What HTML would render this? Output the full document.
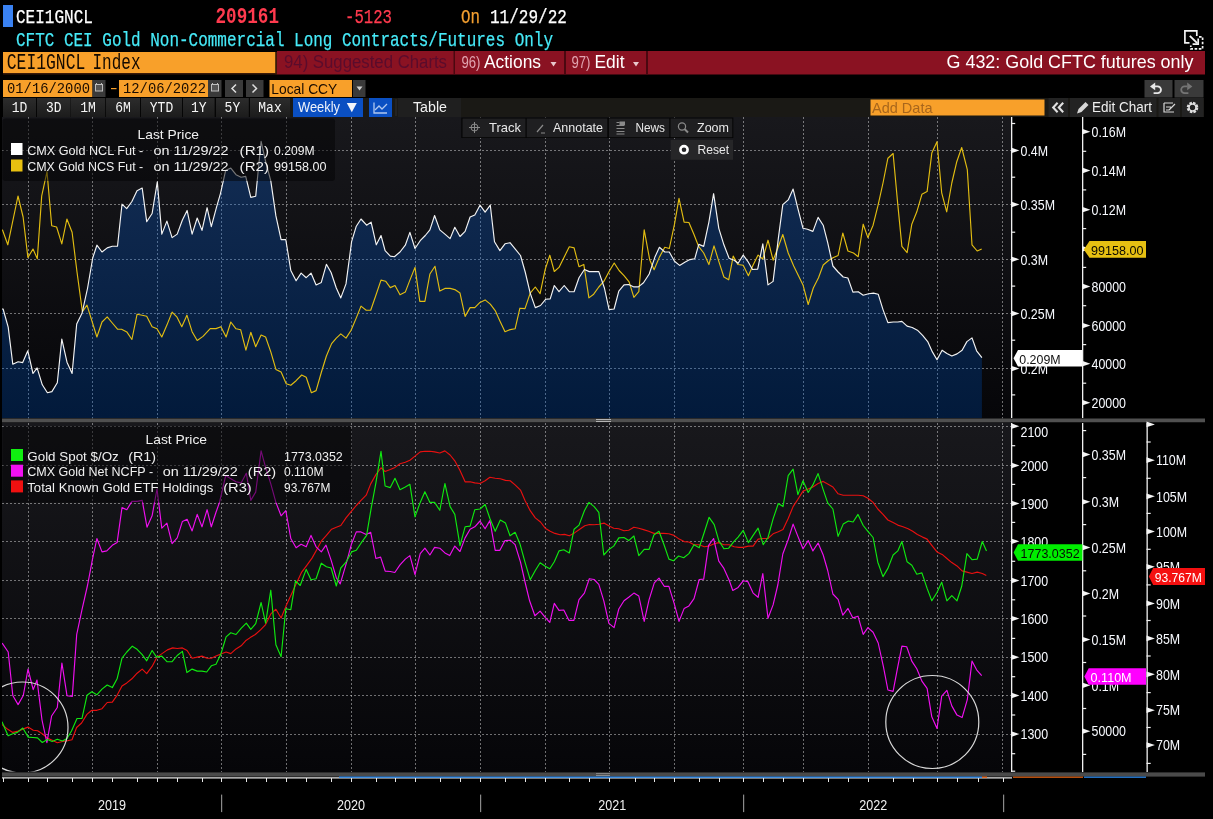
<!DOCTYPE html>
<html><head><meta charset="utf-8"><title>CEI1GNCL Index - G 432</title>
<style>html,body{margin:0;padding:0;background:#000;overflow:hidden;width:1213px;height:819px}svg{display:block}</style>
</head><body>
<svg width="1213" height="819" viewBox="0 0 1213 819">
<defs>
<linearGradient id="bgTop" x1="0" y1="0" x2="0" y2="1"><stop offset="0" stop-color="#18181c"/><stop offset="1" stop-color="#060609"/></linearGradient>
<linearGradient id="bgBot" x1="0" y1="0" x2="0" y2="1"><stop offset="0" stop-color="#18181c"/><stop offset="1" stop-color="#060609"/></linearGradient>
<linearGradient id="fillG" gradientUnits="userSpaceOnUse" x1="0" y1="140" x2="0" y2="418"><stop offset="0" stop-color="#132d54"/><stop offset="1" stop-color="#021a3b"/></linearGradient>
<linearGradient id="btnG" x1="0" y1="0" x2="0" y2="1"><stop offset="0" stop-color="#2c2c2c"/><stop offset="1" stop-color="#1c1c1c"/></linearGradient>
<clipPath id="clipTop"><rect x="2" y="117" width="1009" height="301"/></clipPath>
<clipPath id="clipBot"><rect x="2" y="423" width="1009" height="348.5"/></clipPath>
</defs>
<rect width="1213" height="819" fill="#000"/>
<rect x="3" y="5" width="10" height="22" fill="#3a82f2"/>
<text x="16" y="23" font-size="21" fill="#ffffff" font-family="'Liberation Mono', monospace" textLength="77" lengthAdjust="spacingAndGlyphs" stroke="#ffffff" stroke-width="0.25">CEI1GNCL</text>
<text x="215.5" y="22.8" font-size="22" fill="#ff3a4e" font-family="'Liberation Mono', monospace" textLength="63.5" lengthAdjust="spacingAndGlyphs" font-weight="bold">209161</text>
<text x="345" y="23" font-size="21" fill="#ff3a4e" font-family="'Liberation Mono', monospace" textLength="47" lengthAdjust="spacingAndGlyphs" stroke="#ff3a4e" stroke-width="0.25">-5123</text>
<text x="461" y="23" font-size="21" fill="#f5a030" font-family="'Liberation Mono', monospace" textLength="19" lengthAdjust="spacingAndGlyphs" stroke="#f5a030" stroke-width="0.25">On</text>
<text x="490" y="23" font-size="21" fill="#ffffff" font-family="'Liberation Mono', monospace" textLength="77" lengthAdjust="spacingAndGlyphs" stroke="#ffffff" stroke-width="0.25">11/29/22</text>
<text x="16" y="45.5" font-size="21" fill="#46eaf8" font-family="'Liberation Mono', monospace" textLength="537" lengthAdjust="spacingAndGlyphs" stroke="#46eaf8" stroke-width="0.25">CFTC CEI Gold Non-Commercial Long Contracts/Futures Only</text>
<g fill="none" stroke="#f2f2f2" stroke-width="1.7"><path d="M1196.8,36 V30.9 H1184.9 V42.9 H1189.5"/><path d="M1189.8,35.8 L1197.2,43.2" stroke-width="1.9"/><path d="M1198.2,38.6 V44.2 H1192.6"/><path d="M1199,36.9 H1202.6 V48.9 H1190.8 V45.5" stroke-dasharray="2.6,1.6"/></g>
<rect x="277" y="51" width="928" height="23.5" fill="#8a1222"/>
<rect x="3" y="52" width="272.5" height="21" fill="#f8a02a"/>
<rect x="3" y="73" width="274" height="1.5" fill="#3a1a08"/>
<rect x="275.5" y="52" width="1.5" height="22.5" fill="#3a1a08"/>
<text x="6.8" y="69.2" font-size="21.5" fill="#140a00" font-family="'Liberation Mono', monospace" textLength="78.5" lengthAdjust="spacingAndGlyphs">CEI1GNCL</text>
<text x="92.5" y="69.2" font-size="21.5" fill="#140a00" font-family="'Liberation Mono', monospace" textLength="48" lengthAdjust="spacingAndGlyphs">Index</text>
<text x="284" y="68" font-size="18" fill="#5a0c2c" font-family="'Liberation Sans', sans-serif" textLength="163" lengthAdjust="spacingAndGlyphs">94) Suggested Charts</text>
<rect x="453.5" y="51" width="1.5" height="23.5" fill="#4a0810"/>
<rect x="564" y="51" width="2" height="23.5" fill="#4a0810"/>
<rect x="646" y="51" width="2" height="23.5" fill="#4a0810"/>
<text x="461.5" y="68" font-size="17" fill="#e0a4b0" font-family="'Liberation Sans', sans-serif" textLength="19" lengthAdjust="spacingAndGlyphs">96)</text>
<text x="484" y="68" font-size="17.5" fill="#ffffff" font-family="'Liberation Sans', sans-serif" textLength="57" lengthAdjust="spacingAndGlyphs">Actions</text>
<path d="M550.5,62 h6 l-3,4.5 z" fill="#e8c8cc"/>
<text x="571.5" y="68" font-size="17" fill="#e0a4b0" font-family="'Liberation Sans', sans-serif" textLength="19" lengthAdjust="spacingAndGlyphs">97)</text>
<text x="594.5" y="68" font-size="17.5" fill="#ffffff" font-family="'Liberation Sans', sans-serif" textLength="30" lengthAdjust="spacingAndGlyphs">Edit</text>
<path d="M633,62 h6 l-3,4.5 z" fill="#e8c8cc"/>
<text x="946.5" y="68.2" font-size="18" fill="#ffffff" font-family="'Liberation Sans', sans-serif" textLength="247" lengthAdjust="spacingAndGlyphs">G 432: Gold CFTC futures only</text>
<rect x="3" y="80" width="89.5" height="17" fill="#f8a02a"/>
<text x="7" y="93.4" font-size="14.5" fill="#1a0c00" font-family="'Liberation Mono', monospace" textLength="83" lengthAdjust="spacingAndGlyphs">01/16/2000</text>
<rect x="92.5" y="80" width="13" height="17" fill="#3a3a3a"/>
<g stroke="#bdbdbd" stroke-width="1" fill="#555"><rect x="95.5" y="84.5" width="7" height="6.5"/></g><path d="M96.5,83 v2 M101.5,83 v2" stroke="#bdbdbd"/>
<rect x="111" y="88" width="5.5" height="1.2" fill="#f8a02a"/>
<rect x="119" y="80" width="89" height="17" fill="#f8a02a"/>
<text x="123" y="93.4" font-size="14.5" fill="#1a0c00" font-family="'Liberation Mono', monospace" textLength="83" lengthAdjust="spacingAndGlyphs">12/06/2022</text>
<rect x="208" y="80" width="13.5" height="17" fill="#3a3a3a"/>
<g stroke="#bdbdbd" stroke-width="1" fill="#555"><rect x="211.5" y="84.5" width="7" height="6.5"/></g><path d="M212.5,83 v2 M217.5,83 v2" stroke="#bdbdbd"/>
<rect x="225" y="80" width="18" height="17" fill="#3a3a3a"/>
<path d="M236,84.5 l-4,4 l4,4" stroke="#e0e0e0" stroke-width="1.5" fill="none"/>
<rect x="246" y="80" width="17.5" height="17" fill="#3a3a3a"/>
<path d="M252.5,84.5 l4,4 l-4,4" stroke="#e0e0e0" stroke-width="1.5" fill="none"/>
<rect x="269.5" y="80" width="82.5" height="17" fill="#f8a02a"/>
<text x="271.3" y="93.8" font-size="14.8" fill="#1a0c00" font-family="'Liberation Sans', sans-serif" textLength="66" lengthAdjust="spacingAndGlyphs">Local CCY</text>
<rect x="353" y="80" width="12.5" height="17" fill="#3a3a3a"/>
<path d="M356.5,86.5 h6 l-3,4 z" fill="#d0d0d0"/>
<rect x="1144.5" y="80" width="28" height="17.5" fill="#3a3a3a"/>
<rect x="1174.5" y="80" width="29" height="17.5" fill="#3a3a3a"/>
<path d="M1150,86.4 L1155.2,82.6 V90.2 Z" fill="#e8e8e8"/><path d="M1155,86.4 H1157.6 A3.4,3.4 0 0 1 1157.6,93.2 H1153.6" stroke="#e8e8e8" stroke-width="1.8" fill="none"/>
<path d="M1192.4,86.4 L1187.2,82.6 V90.2 Z" fill="#757575"/><path d="M1187.4,86.4 H1184.6 A3.4,3.4 0 0 0 1184.6,93.2 H1188.4" stroke="#757575" stroke-width="1.8" fill="none"/>
<rect x="3" y="98" width="290" height="19" fill="#050505"/><rect x="290" y="98" width="914" height="19" fill="#1a1915"/><rect x="395.5" y="99" width="1" height="17" fill="#2e2e2e"/>
<rect x="3" y="98" width="33" height="19" fill="url(#btnG)"/>
<text x="19.5" y="112" font-size="14.5" fill="#f6f6f6" font-family="'Liberation Mono', monospace" textLength="15.6" lengthAdjust="spacingAndGlyphs" text-anchor="middle">1D</text>
<rect x="37" y="98" width="33.599999999999994" height="19" fill="url(#btnG)"/>
<text x="53.8" y="112" font-size="14.5" fill="#f6f6f6" font-family="'Liberation Mono', monospace" textLength="15.6" lengthAdjust="spacingAndGlyphs" text-anchor="middle">3D</text>
<rect x="71" y="98" width="34.2" height="19" fill="url(#btnG)"/>
<text x="88.1" y="112" font-size="14.5" fill="#f6f6f6" font-family="'Liberation Mono', monospace" textLength="15.6" lengthAdjust="spacingAndGlyphs" text-anchor="middle">1M</text>
<rect x="106" y="98" width="34" height="19" fill="url(#btnG)"/>
<text x="123.0" y="112" font-size="14.5" fill="#f6f6f6" font-family="'Liberation Mono', monospace" textLength="15.6" lengthAdjust="spacingAndGlyphs" text-anchor="middle">6M</text>
<rect x="141" y="98" width="41" height="19" fill="url(#btnG)"/>
<text x="161.5" y="112" font-size="14.5" fill="#f6f6f6" font-family="'Liberation Mono', monospace" textLength="23.4" lengthAdjust="spacingAndGlyphs" text-anchor="middle">YTD</text>
<rect x="183" y="98" width="31.599999999999994" height="19" fill="url(#btnG)"/>
<text x="198.8" y="112" font-size="14.5" fill="#f6f6f6" font-family="'Liberation Mono', monospace" textLength="15.6" lengthAdjust="spacingAndGlyphs" text-anchor="middle">1Y</text>
<rect x="216" y="98" width="32.80000000000001" height="19" fill="url(#btnG)"/>
<text x="232.4" y="112" font-size="14.5" fill="#f6f6f6" font-family="'Liberation Mono', monospace" textLength="15.6" lengthAdjust="spacingAndGlyphs" text-anchor="middle">5Y</text>
<rect x="250" y="98" width="40" height="19" fill="url(#btnG)"/>
<text x="270.0" y="112" font-size="14.5" fill="#f6f6f6" font-family="'Liberation Mono', monospace" textLength="23.4" lengthAdjust="spacingAndGlyphs" text-anchor="middle">Max</text>
<rect x="293" y="98" width="70" height="19" fill="#0a4fc2"/>
<text x="298" y="112" font-size="14.5" fill="#eef2fa" font-family="'Liberation Sans', sans-serif" textLength="42" lengthAdjust="spacingAndGlyphs">Weekly</text>
<path d="M346.8,103 h10 l-5,9.2 z" fill="#f2f4fa"/>
<rect x="369" y="98" width="23" height="19" fill="#0a4fc2"/>
<path d="M374,102.5 v10.5 h13" stroke="#b0c8f0" stroke-width="1.3" fill="none"/><path d="M375,110 l4,-4 l3,3 l5,-5" stroke="#b0c8f0" stroke-width="1.3" fill="none"/>
<rect x="398" y="98" width="63" height="19" fill="#1f1f1f"/>
<text x="413" y="111.8" font-size="14" fill="#f0f0f0" font-family="'Liberation Sans', sans-serif" textLength="34" lengthAdjust="spacingAndGlyphs">Table</text>
<rect x="870.5" y="99.5" width="174" height="16" fill="#f8a02a"/>
<text x="872" y="112.8" font-size="15" fill="#a8661c" font-family="'Liberation Sans', sans-serif" textLength="60.5" lengthAdjust="spacingAndGlyphs">Add Data</text>
<rect x="1048.5" y="98" width="19.5" height="19" fill="#232323"/>
<path d="M1057.6,102.8 L1053.2,107.5 L1057.6,112.2 M1063.2,102.8 L1058.8,107.5 L1063.2,112.2" stroke="#e0e0e0" stroke-width="2.1" fill="none"/>
<rect x="1070" y="98" width="86.5" height="19" fill="#232323"/>
<path d="M1077,113.5 l1.5,-4.5 l7,-7 l3,3 l-7,7 z" fill="#d8d8d8"/>
<text x="1092" y="112" font-size="14" fill="#f0f0f0" font-family="'Liberation Sans', sans-serif" textLength="60" lengthAdjust="spacingAndGlyphs">Edit Chart</text>
<rect x="1158.5" y="98" width="21.5" height="19" fill="#232323"/>
<path d="M1164,103 h9 M1164,103 v9 h10 M1166,107 h5 M1166,110 h3 M1169,110 l6,-6" stroke="#d8d8d8" stroke-width="1.2" fill="none"/>
<rect x="1182" y="98" width="21.5" height="19" fill="#232323"/>
<g transform="translate(1192.5,107.5)"><circle r="4.5" fill="none" stroke="#e0e0e0" stroke-width="2.6" stroke-dasharray="2.4,1.13"/><circle r="3.5" fill="none" stroke="#e0e0e0" stroke-width="1.6"/></g>
<rect x="2" y="117" width="1009.5" height="301.5" fill="url(#bgTop)"/>
<path d="M2,150.5H1011 M2,204.5H1011 M2,259.5H1011 M2,313.5H1011 M2,368.5H1011 M28.5,117V418.5 M92.5,117V418.5 M157.5,117V418.5 M221.5,117V418.5 M286.5,117V418.5 M351.5,117V418.5 M415.5,117V418.5 M480.5,117V418.5 M545.5,117V418.5 M609.5,117V418.5 M674.5,117V418.5 M743.5,117V418.5 M803.5,117V418.5 M868.5,117V418.5 M937.5,117V418.5 M1002.5,117V418.5" stroke="rgba(255,255,255,0.42)" stroke-width="1" stroke-dasharray="2,2" fill="none"/>
<g clip-path="url(#clipTop)"><polygon points="2.0,418.5 2.0,309.0 3.1,309.0 8.2,327.1 12.8,364.2 18.1,361.8 22.7,362.6 27.8,350.8 33.0,373.5 37.1,367.9 42.3,384.8 47.4,392.7 51.9,391.6 57.3,382.8 61.8,339.1 67.0,362.2 72.1,373.5 76.7,324.0 82.0,313.3 87.6,288.0 92.7,258.0 96.9,245.2 102.0,252.0 107.2,247.9 112.3,246.2 117.5,246.2 122.0,204.2 126.7,208.7 131.9,201.5 137.0,190.8 142.2,188.1 146.7,221.7 152.1,213.5 157.3,181.9 161.8,234.1 166.9,221.1 172.1,237.6 177.2,234.1 182.4,220.0 187.1,210.4 192.1,234.1 197.2,218.0 202.0,230.4 207.1,207.7 211.3,226.6 216.4,207.7 220.5,193.3 225.7,170.2 230.8,168.1 236.0,174.7 241.1,177.2 245.7,176.4 250.8,197.4 255.7,196.3 261.1,141.3 265.6,161.3 270.8,180.9 275.9,215.9 281.1,239.6 285.8,239.6 290.8,270.5 296.1,280.8 301.1,273.1 306.2,277.7 311.0,273.1 316.1,284.9 321.3,282.4 326.4,264.3 331.1,272.5 336.3,288.0 340.8,297.9 346.0,283.9 351.6,241.7 356.3,226.2 361.0,219.0 366.6,225.2 371.1,222.1 376.3,244.8 381.0,235.5 385.1,250.6 390.3,256.1 394.4,256.7 400.0,252.0 405.3,245.2 409.9,232.4 415.0,248.5 420.2,240.7 425.3,235.5 429.9,229.9 434.6,215.5 439.8,229.9 444.9,234.1 450.1,238.6 454.8,227.3 460.0,236.5 465.1,231.4 470.1,217.0 474.8,214.9 480.0,205.2 485.1,212.2 490.3,205.2 494.5,241.7 499.9,250.6 505.0,243.8 510.0,242.7 515.1,248.9 520.5,255.5 525.2,272.0 530.2,293.1 535.3,307.6 540.5,305.5 545.6,299.3 550.2,298.9 554.3,285.5 559.0,291.7 564.2,285.5 569.3,291.7 574.1,291.7 579.0,277.7 584.4,269.5 589.3,271.6 594.1,271.6 598.8,271.6 604.4,288.0 609.1,309.6 614.1,309.0 618.8,291.1 624.0,284.9 628.7,284.5 633.9,286.9 638.4,286.9 643.5,282.8 649.2,274.0 654.9,257.1 659.4,247.3 664.8,252.0 669.3,252.0 674.5,261.3 679.6,265.4 684.8,262.3 689.9,259.6 694.7,258.8 698.8,244.4 703.7,246.4 708.9,222.1 713.6,193.7 718.8,228.3 723.9,244.8 729.1,258.2 734.2,260.2 738.1,263.3 743.2,255.1 747.8,261.3 752.5,269.5 757.7,269.1 762.8,243.8 768.0,284.9 773.1,281.4 778.3,238.6 782.8,204.6 788.2,199.9 793.1,189.1 797.9,208.7 803.0,228.3 807.5,229.3 812.9,231.4 818.1,217.4 823.2,225.2 827.7,242.7 832.9,266.0 838.1,272.0 843.2,277.0 847.9,278.0 852.9,292.1 858.2,291.7 863.2,295.2 868.6,293.7 873.5,293.1 878.2,294.2 883.0,309.6 887.9,322.6 893.3,322.0 897.8,322.0 901.9,321.4 907.1,326.1 912.2,327.5 917.4,330.2 922.6,335.4 927.7,341.6 932.4,351.9 937.0,359.7 942.1,350.2 946.9,353.5 951.8,356.0 957.0,353.9 962.1,350.2 966.9,341.6 972.0,337.9 976.6,350.8 981.9,357.6 981.9,418.5" fill="url(#fillG)"/></g>
<clipPath id="clipFill"><polygon points="2.0,418.5 2.0,309.0 3.1,309.0 8.2,327.1 12.8,364.2 18.1,361.8 22.7,362.6 27.8,350.8 33.0,373.5 37.1,367.9 42.3,384.8 47.4,392.7 51.9,391.6 57.3,382.8 61.8,339.1 67.0,362.2 72.1,373.5 76.7,324.0 82.0,313.3 87.6,288.0 92.7,258.0 96.9,245.2 102.0,252.0 107.2,247.9 112.3,246.2 117.5,246.2 122.0,204.2 126.7,208.7 131.9,201.5 137.0,190.8 142.2,188.1 146.7,221.7 152.1,213.5 157.3,181.9 161.8,234.1 166.9,221.1 172.1,237.6 177.2,234.1 182.4,220.0 187.1,210.4 192.1,234.1 197.2,218.0 202.0,230.4 207.1,207.7 211.3,226.6 216.4,207.7 220.5,193.3 225.7,170.2 230.8,168.1 236.0,174.7 241.1,177.2 245.7,176.4 250.8,197.4 255.7,196.3 261.1,141.3 265.6,161.3 270.8,180.9 275.9,215.9 281.1,239.6 285.8,239.6 290.8,270.5 296.1,280.8 301.1,273.1 306.2,277.7 311.0,273.1 316.1,284.9 321.3,282.4 326.4,264.3 331.1,272.5 336.3,288.0 340.8,297.9 346.0,283.9 351.6,241.7 356.3,226.2 361.0,219.0 366.6,225.2 371.1,222.1 376.3,244.8 381.0,235.5 385.1,250.6 390.3,256.1 394.4,256.7 400.0,252.0 405.3,245.2 409.9,232.4 415.0,248.5 420.2,240.7 425.3,235.5 429.9,229.9 434.6,215.5 439.8,229.9 444.9,234.1 450.1,238.6 454.8,227.3 460.0,236.5 465.1,231.4 470.1,217.0 474.8,214.9 480.0,205.2 485.1,212.2 490.3,205.2 494.5,241.7 499.9,250.6 505.0,243.8 510.0,242.7 515.1,248.9 520.5,255.5 525.2,272.0 530.2,293.1 535.3,307.6 540.5,305.5 545.6,299.3 550.2,298.9 554.3,285.5 559.0,291.7 564.2,285.5 569.3,291.7 574.1,291.7 579.0,277.7 584.4,269.5 589.3,271.6 594.1,271.6 598.8,271.6 604.4,288.0 609.1,309.6 614.1,309.0 618.8,291.1 624.0,284.9 628.7,284.5 633.9,286.9 638.4,286.9 643.5,282.8 649.2,274.0 654.9,257.1 659.4,247.3 664.8,252.0 669.3,252.0 674.5,261.3 679.6,265.4 684.8,262.3 689.9,259.6 694.7,258.8 698.8,244.4 703.7,246.4 708.9,222.1 713.6,193.7 718.8,228.3 723.9,244.8 729.1,258.2 734.2,260.2 738.1,263.3 743.2,255.1 747.8,261.3 752.5,269.5 757.7,269.1 762.8,243.8 768.0,284.9 773.1,281.4 778.3,238.6 782.8,204.6 788.2,199.9 793.1,189.1 797.9,208.7 803.0,228.3 807.5,229.3 812.9,231.4 818.1,217.4 823.2,225.2 827.7,242.7 832.9,266.0 838.1,272.0 843.2,277.0 847.9,278.0 852.9,292.1 858.2,291.7 863.2,295.2 868.6,293.7 873.5,293.1 878.2,294.2 883.0,309.6 887.9,322.6 893.3,322.0 897.8,322.0 901.9,321.4 907.1,326.1 912.2,327.5 917.4,330.2 922.6,335.4 927.7,341.6 932.4,351.9 937.0,359.7 942.1,350.2 946.9,353.5 951.8,356.0 957.0,353.9 962.1,350.2 966.9,341.6 972.0,337.9 976.6,350.8 981.9,357.6 981.9,418.5"/></clipPath>
<path clip-path="url(#clipFill)" d="M2,150.5H1011 M2,204.5H1011 M2,259.5H1011 M2,313.5H1011 M2,368.5H1011 M28.5,117V418.5 M92.5,117V418.5 M157.5,117V418.5 M221.5,117V418.5 M286.5,117V418.5 M351.5,117V418.5 M415.5,117V418.5 M480.5,117V418.5 M545.5,117V418.5 M609.5,117V418.5 M674.5,117V418.5 M743.5,117V418.5 M803.5,117V418.5 M868.5,117V418.5 M937.5,117V418.5 M1002.5,117V418.5" stroke="rgba(150,180,215,0.5)" stroke-width="1" stroke-dasharray="2,2" fill="none"/>
<g clip-path="url(#clipTop)" fill="none" stroke-width="1.15" stroke-linejoin="round">
<polyline points="2.0,230.0 2.5,230.0 7.8,244.8 18.0,196.0 23.1,217.0 27.9,257.5 33.0,249.0 37.3,258.8 41.7,196.0 47.0,171.6 51.7,225.8 56.6,227.0 61.8,243.9 66.9,219.0 72.1,232.2 77.0,272.0 82.4,311.7 87.0,305.1 96.9,337.0 102.0,322.0 107.2,316.8 112.3,323.0 117.5,329.2 121.6,329.2 126.8,331.9 131.9,339.5 137.1,314.2 142.2,315.2 146.7,316.2 152.1,326.7 157.0,328.8 161.8,337.0 166.9,325.1 172.1,312.1 176.8,316.8 181.8,326.7 186.9,315.2 192.1,331.7 197.2,340.5 203.0,336.4 210.2,328.6 216.0,328.6 220.9,326.7 226.1,337.0 230.8,322.0 236.0,328.8 240.7,329.8 245.9,350.2 250.8,332.3 255.7,346.7 261.1,335.0 265.6,337.0 270.8,351.9 275.9,369.4 281.1,372.1 286.2,383.8 290.8,385.3 296.1,380.7 301.7,375.0 306.2,377.2 311.4,392.7 316.1,390.6 321.3,372.5 326.4,356.0 331.6,343.6 336.3,338.1 340.8,333.9 346.0,338.1 351.1,330.2 356.3,317.9 361.0,306.1 366.2,310.2 370.7,310.2 375.9,295.2 381.0,280.1 385.6,281.2 390.3,287.6 395.0,285.5 400.0,294.8 405.3,292.1 409.9,280.1 415.0,267.4 419.8,301.4 424.9,301.4 429.9,274.0 435.0,266.3 439.8,291.1 444.9,288.4 450.1,288.4 454.8,289.6 460.0,293.1 465.1,316.4 470.1,307.6 474.8,307.6 480.0,302.4 485.1,299.9 490.3,304.1 495.2,310.6 499.9,321.0 505.0,331.7 510.2,329.6 515.1,328.8 519.9,308.2 525.0,308.6 530.2,293.1 535.3,287.0 540.1,293.7 545.2,269.4 549.8,255.2 554.3,271.5 559.0,267.4 569.3,246.8 574.1,247.9 579.0,266.7 583.8,264.4 588.9,297.9 593.7,294.2 598.8,287.0 603.8,281.4 609.1,271.5 614.2,263.0 619.1,270.5 624.0,275.6 629.1,281.8 633.9,297.3 638.8,291.7 644.2,229.9 649.7,259.7 654.1,269.7 659.4,257.1 664.8,247.3 669.3,248.5 674.5,224.2 679.0,198.4 684.1,222.1 688.9,222.5 694.0,234.5 698.6,246.4 703.7,253.0 708.9,264.6 714.0,245.8 718.8,261.3 723.9,277.0 728.7,279.8 733.2,256.1 737.8,264.5 743.2,265.2 748.4,275.7 753.1,265.0 758.1,255.1 762.8,259.0 768.0,240.2 773.1,260.2 778.3,246.8 782.8,234.5 788.2,253.0 793.7,266.0 803.0,284.9 808.2,304.5 813.3,288.0 818.5,277.7 823.2,265.0 828.8,260.2 833.5,257.6 838.1,255.5 842.8,233.0 847.9,251.0 853.5,253.0 858.2,256.7 863.2,224.2 867.9,237.6 873.1,225.2 878.2,204.6 883.0,183.0 887.9,158.2 893.1,153.5 897.8,204.6 901.9,246.4 907.1,252.6 911.8,224.2 916.8,211.8 921.9,194.3 927.1,191.6 931.8,153.1 937.0,141.7 941.7,192.8 946.7,211.8 951.8,183.0 956.6,162.3 961.7,147.5 967.3,169.6 972.0,244.8 977.2,251.0 981.7,248.9" stroke="#e2bd12"/>
<polyline points="2.0,309.0 3.1,309.0 8.2,327.1 12.8,364.2 18.1,361.8 22.7,362.6 27.8,350.8 33.0,373.5 37.1,367.9 42.3,384.8 47.4,392.7 51.9,391.6 57.3,382.8 61.8,339.1 67.0,362.2 72.1,373.5 76.7,324.0 82.0,313.3 87.6,288.0 92.7,258.0 96.9,245.2 102.0,252.0 107.2,247.9 112.3,246.2 117.5,246.2 122.0,204.2 126.7,208.7 131.9,201.5 137.0,190.8 142.2,188.1 146.7,221.7 152.1,213.5 157.3,181.9 161.8,234.1 166.9,221.1 172.1,237.6 177.2,234.1 182.4,220.0 187.1,210.4 192.1,234.1 197.2,218.0 202.0,230.4 207.1,207.7 211.3,226.6 216.4,207.7 220.5,193.3 225.7,170.2 230.8,168.1 236.0,174.7 241.1,177.2 245.7,176.4 250.8,197.4 255.7,196.3 261.1,141.3 265.6,161.3 270.8,180.9 275.9,215.9 281.1,239.6 285.8,239.6 290.8,270.5 296.1,280.8 301.1,273.1 306.2,277.7 311.0,273.1 316.1,284.9 321.3,282.4 326.4,264.3 331.1,272.5 336.3,288.0 340.8,297.9 346.0,283.9 351.6,241.7 356.3,226.2 361.0,219.0 366.6,225.2 371.1,222.1 376.3,244.8 381.0,235.5 385.1,250.6 390.3,256.1 394.4,256.7 400.0,252.0 405.3,245.2 409.9,232.4 415.0,248.5 420.2,240.7 425.3,235.5 429.9,229.9 434.6,215.5 439.8,229.9 444.9,234.1 450.1,238.6 454.8,227.3 460.0,236.5 465.1,231.4 470.1,217.0 474.8,214.9 480.0,205.2 485.1,212.2 490.3,205.2 494.5,241.7 499.9,250.6 505.0,243.8 510.0,242.7 515.1,248.9 520.5,255.5 525.2,272.0 530.2,293.1 535.3,307.6 540.5,305.5 545.6,299.3 550.2,298.9 554.3,285.5 559.0,291.7 564.2,285.5 569.3,291.7 574.1,291.7 579.0,277.7 584.4,269.5 589.3,271.6 594.1,271.6 598.8,271.6 604.4,288.0 609.1,309.6 614.1,309.0 618.8,291.1 624.0,284.9 628.7,284.5 633.9,286.9 638.4,286.9 643.5,282.8 649.2,274.0 654.9,257.1 659.4,247.3 664.8,252.0 669.3,252.0 674.5,261.3 679.6,265.4 684.8,262.3 689.9,259.6 694.7,258.8 698.8,244.4 703.7,246.4 708.9,222.1 713.6,193.7 718.8,228.3 723.9,244.8 729.1,258.2 734.2,260.2 738.1,263.3 743.2,255.1 747.8,261.3 752.5,269.5 757.7,269.1 762.8,243.8 768.0,284.9 773.1,281.4 778.3,238.6 782.8,204.6 788.2,199.9 793.1,189.1 797.9,208.7 803.0,228.3 807.5,229.3 812.9,231.4 818.1,217.4 823.2,225.2 827.7,242.7 832.9,266.0 838.1,272.0 843.2,277.0 847.9,278.0 852.9,292.1 858.2,291.7 863.2,295.2 868.6,293.7 873.5,293.1 878.2,294.2 883.0,309.6 887.9,322.6 893.3,322.0 897.8,322.0 901.9,321.4 907.1,326.1 912.2,327.5 917.4,330.2 922.6,335.4 927.7,341.6 932.4,351.9 937.0,359.7 942.1,350.2 946.9,353.5 951.8,356.0 957.0,353.9 962.1,350.2 966.9,341.6 972.0,337.9 976.6,350.8 981.9,357.6" stroke="#f4f4f4"/>
</g>
<rect x="2.5" y="118.5" width="332.5" height="62.5" rx="3" fill="rgba(4,4,6,0.52)"/>
<text x="137.5" y="138.8" font-size="13.5" fill="#f0f0f0" font-family="'Liberation Sans', sans-serif" textLength="61.5" lengthAdjust="spacingAndGlyphs">Last Price</text>
<rect x="11" y="143" width="11.5" height="12" fill="#ffffff"/>
<rect x="11" y="159.5" width="11.5" height="12" fill="#e8c010"/>
<text x="27.2" y="154.8" font-size="13.5" fill="#f0f0f0" font-family="'Liberation Sans', sans-serif" textLength="116" lengthAdjust="spacingAndGlyphs">CMX Gold NCL Fut -</text>
<text x="153.6" y="154.8" font-size="13.5" fill="#f0f0f0" font-family="'Liberation Sans', sans-serif" textLength="75" lengthAdjust="spacingAndGlyphs">on 11/29/22</text>
<text x="239.6" y="154.8" font-size="13.5" fill="#f0f0f0" font-family="'Liberation Sans', sans-serif" textLength="29.5" lengthAdjust="spacingAndGlyphs">(R1)</text>
<text x="274" y="154.8" font-size="13.5" fill="#f0f0f0" font-family="'Liberation Sans', sans-serif" textLength="40.5" lengthAdjust="spacingAndGlyphs">0.209M</text>
<text x="27.2" y="170.6" font-size="13.5" fill="#f0f0f0" font-family="'Liberation Sans', sans-serif" textLength="116" lengthAdjust="spacingAndGlyphs">CMX Gold NCS Fut -</text>
<text x="153.6" y="170.6" font-size="13.5" fill="#f0f0f0" font-family="'Liberation Sans', sans-serif" textLength="75" lengthAdjust="spacingAndGlyphs">on 11/29/22</text>
<text x="239.6" y="170.6" font-size="13.5" fill="#f0f0f0" font-family="'Liberation Sans', sans-serif" textLength="29.5" lengthAdjust="spacingAndGlyphs">(R2)</text>
<text x="274" y="170.6" font-size="13.5" fill="#f0f0f0" font-family="'Liberation Sans', sans-serif" textLength="52.5" lengthAdjust="spacingAndGlyphs">99158.00</text>
<rect x="461.3" y="117.5" width="272" height="20.5" fill="#050505"/>
<rect x="462.5" y="118.5" width="63.0" height="18.7" fill="#1f1f21"/>
<rect x="526.7" y="118.5" width="80.59999999999991" height="18.7" fill="#1f1f21"/>
<rect x="608.9" y="118.5" width="60.39999999999998" height="18.7" fill="#1f1f21"/>
<rect x="670.5" y="118.5" width="61.799999999999955" height="18.7" fill="#1f1f21"/>
<text x="489" y="131.6" font-size="13" fill="#e8e8e8" font-family="'Liberation Sans', sans-serif" textLength="32" lengthAdjust="spacingAndGlyphs">Track</text>
<text x="553" y="131.6" font-size="13" fill="#e8e8e8" font-family="'Liberation Sans', sans-serif" textLength="50" lengthAdjust="spacingAndGlyphs">Annotate</text>
<text x="635.5" y="131.6" font-size="13" fill="#e8e8e8" font-family="'Liberation Sans', sans-serif" textLength="29.5" lengthAdjust="spacingAndGlyphs">News</text>
<text x="697" y="131.6" font-size="13" fill="#e8e8e8" font-family="'Liberation Sans', sans-serif" textLength="32" lengthAdjust="spacingAndGlyphs">Zoom</text>
<g stroke="#8a8a8a" stroke-width="1" fill="none"><circle cx="474.5" cy="127.5" r="3.5"/><path d="M469,127.5h11M474.5,122v11"/></g>
<g stroke="#8a8a8a" stroke-width="1.2" fill="none"><path d="M537,132 l6,-7 M541,133 h4"/></g>
<g stroke="#8a8a8a" stroke-width="1" fill="none"><path d="M616.5,122.5h3M616.5,125.5h8M616.5,128.5h8M616.5,131.5h8M616.5,134h8"/><rect x="620" y="122" width="4.5" height="2.5" fill="#8a8a8a"/></g>
<g stroke="#8a8a8a" stroke-width="1.2" fill="none"><circle cx="682" cy="126.5" r="3.6"/><path d="M684.5,129 l3.5,3.5" stroke-width="2"/></g>
<rect x="670.7" y="139.8" width="62.3" height="20" fill="#262628"/>
<circle cx="684" cy="149.7" r="3.6" fill="none" stroke="#ffffff" stroke-width="2.6"/>
<text x="697.5" y="154" font-size="13" fill="#e8e8e8" font-family="'Liberation Sans', sans-serif" textLength="31.5" lengthAdjust="spacingAndGlyphs">Reset</text>
<rect x="1011.5" y="117" width="201.5" height="301.5" fill="#000"/>
<rect x="1011" y="117" width="1.3" height="301" fill="#f0f0f0"/>
<rect x="1011" y="122.9" width="4.2" height="1.2" fill="#f0f0f0"/>
<rect x="1011" y="176.6" width="4.2" height="1.2" fill="#f0f0f0"/>
<rect x="1011" y="231.6" width="4.2" height="1.2" fill="#f0f0f0"/>
<rect x="1011" y="285.5" width="4.2" height="1.2" fill="#f0f0f0"/>
<rect x="1011" y="339.59999999999997" width="4.2" height="1.2" fill="#f0f0f0"/>
<rect x="1011" y="394.29999999999995" width="4.2" height="1.2" fill="#f0f0f0"/>
<path d="M1011,147.5 L1019.4,150.4 L1011,153.3 z" fill="#f4f4f4"/>
<text transform="translate(1020.5,155.6) scale(0.9,1)" font-size="13.8" fill="#f8faff" font-family="'Liberation Sans', sans-serif">0.4M</text>
<path d="M1011,201.6 L1019.4,204.5 L1011,207.4 z" fill="#f4f4f4"/>
<text transform="translate(1020.5,209.7) scale(0.9,1)" font-size="13.8" fill="#f8faff" font-family="'Liberation Sans', sans-serif">0.35M</text>
<path d="M1011,256.40000000000003 L1019.4,259.3 L1011,262.2 z" fill="#f4f4f4"/>
<text transform="translate(1020.5,264.5) scale(0.9,1)" font-size="13.8" fill="#f8faff" font-family="'Liberation Sans', sans-serif">0.3M</text>
<path d="M1011,310.6 L1019.4,313.5 L1011,316.4 z" fill="#f4f4f4"/>
<text transform="translate(1020.5,318.7) scale(0.9,1)" font-size="13.8" fill="#f8faff" font-family="'Liberation Sans', sans-serif">0.25M</text>
<path d="M1011,365.70000000000005 L1019.4,368.6 L1011,371.5 z" fill="#f4f4f4"/>
<text transform="translate(1020.5,373.8) scale(0.9,1)" font-size="13.8" fill="#f8faff" font-family="'Liberation Sans', sans-serif">0.2M</text>
<rect x="1082" y="117" width="1.3" height="301" fill="#f0f0f0"/>
<rect x="1082" y="150.70000000000002" width="4.2" height="1.2" fill="#f0f0f0"/>
<rect x="1082" y="189.3" width="4.2" height="1.2" fill="#f0f0f0"/>
<rect x="1082" y="228.0" width="4.2" height="1.2" fill="#f0f0f0"/>
<rect x="1082" y="266.79999999999995" width="4.2" height="1.2" fill="#f0f0f0"/>
<rect x="1082" y="305.09999999999997" width="4.2" height="1.2" fill="#f0f0f0"/>
<rect x="1082" y="344.0" width="4.2" height="1.2" fill="#f0f0f0"/>
<rect x="1082" y="382.59999999999997" width="4.2" height="1.2" fill="#f0f0f0"/>
<path d="M1082,128.79999999999998 L1090.4,131.7 L1082,134.6 z" fill="#f4f4f4"/>
<text transform="translate(1091.5,136.89999999999998) scale(0.9,1)" font-size="13.8" fill="#f8faff" font-family="'Liberation Sans', sans-serif">0.16M</text>
<path d="M1082,167.6 L1090.4,170.5 L1082,173.4 z" fill="#f4f4f4"/>
<text transform="translate(1091.5,175.7) scale(0.9,1)" font-size="13.8" fill="#f8faff" font-family="'Liberation Sans', sans-serif">0.14M</text>
<path d="M1082,206.79999999999998 L1090.4,209.7 L1082,212.6 z" fill="#f4f4f4"/>
<text transform="translate(1091.5,214.89999999999998) scale(0.9,1)" font-size="13.8" fill="#f8faff" font-family="'Liberation Sans', sans-serif">0.12M</text>
<path d="M1082,245.9 L1090.4,248.8 L1082,251.70000000000002 z" fill="#f4f4f4"/>
<path d="M1082,283.6 L1090.4,286.5 L1082,289.4 z" fill="#f4f4f4"/>
<text transform="translate(1091.5,291.7) scale(0.9,1)" font-size="13.8" fill="#f8faff" font-family="'Liberation Sans', sans-serif">80000</text>
<path d="M1082,322.70000000000005 L1090.4,325.6 L1082,328.5 z" fill="#f4f4f4"/>
<text transform="translate(1091.5,330.8) scale(0.9,1)" font-size="13.8" fill="#f8faff" font-family="'Liberation Sans', sans-serif">60000</text>
<path d="M1082,360.8 L1090.4,363.7 L1082,366.59999999999997 z" fill="#f4f4f4"/>
<text transform="translate(1091.5,368.9) scale(0.9,1)" font-size="13.8" fill="#f8faff" font-family="'Liberation Sans', sans-serif">40000</text>
<path d="M1082,399.8 L1090.4,402.7 L1082,405.59999999999997 z" fill="#f4f4f4"/>
<text transform="translate(1091.5,407.9) scale(0.9,1)" font-size="13.8" fill="#f8faff" font-family="'Liberation Sans', sans-serif">20000</text>
<path d="M1083.8,249.4 L1089.5,241.1 H1146 V257.8 H1089.5 z" fill="#e6c012"/>
<text x="1091" y="254.9" font-size="13.7" fill="#0c0a00" font-family="'Liberation Sans', sans-serif" textLength="52.5" lengthAdjust="spacingAndGlyphs">99158.00</text>
<path d="M1013.5,358.3 L1018,350 H1082 V366.6 H1018 z" fill="#ffffff"/>
<text x="1019.3" y="363.7" font-size="13.7" fill="#101010" font-family="'Liberation Sans', sans-serif" textLength="41.3" lengthAdjust="spacingAndGlyphs">0.209M</text>
<rect x="2" y="418.5" width="1203" height="4" fill="#505050"/>
<rect x="596" y="419" width="15" height="1" fill="#b4b4b4"/><rect x="596" y="421" width="15" height="1" fill="#b4b4b4"/>
<rect x="2" y="422.5" width="1009.5" height="350" fill="url(#bgBot)"/>
<path d="M2,426.5H1011 M2,465.5H1011 M2,503.5H1011 M2,541.5H1011 M2,580.5H1011 M2,618.5H1011 M2,657.5H1011 M2,695.5H1011 M2,734.5H1011 M28.5,423V772 M92.5,423V772 M157.5,423V772 M221.5,423V772 M286.5,423V772 M351.5,423V772 M415.5,423V772 M480.5,423V772 M545.5,423V772 M609.5,423V772 M674.5,423V772 M743.5,423V772 M803.5,423V772 M868.5,423V772 M937.5,423V772 M1002.5,423V772" stroke="rgba(255,255,255,0.42)" stroke-width="1" stroke-dasharray="2,2" fill="none"/>
<g clip-path="url(#clipBot)" fill="none" stroke-width="1.15" stroke-linejoin="round">
<polyline points="2.0,724.4 7.4,729.1 12.8,732.4 18.1,731.1 22.8,729.1 28.0,727.1 33.3,730.3 37.6,730.8 43.0,734.2 47.2,738.0 52.2,740.3 57.3,742.7 62.6,741.5 67.5,740.8 72.0,739.7 76.6,727.5 81.6,723.0 86.9,714.4 91.8,710.3 96.9,710.3 102.0,708.7 107.2,702.5 112.3,702.1 117.1,695.3 122.0,686.0 126.8,682.9 131.9,678.8 137.1,673.2 142.2,669.1 146.7,673.6 152.1,666.4 157.0,657.1 162.4,653.4 167.4,649.9 172.7,647.9 177.2,648.5 182.4,647.9 187.1,650.5 192.1,658.2 197.2,657.1 202.0,656.1 207.1,658.2 211.3,658.2 216.0,656.1 220.9,654.0 226.1,652.0 230.8,653.6 236.0,648.9 241.1,645.8 245.6,640.8 250.2,637.6 255.3,634.5 260.5,629.9 265.6,624.6 270.8,613.9 275.9,609.3 281.1,618.0 286.2,605.6 291.4,594.3 296.1,584.0 301.7,572.1 306.8,565.3 312.0,558.1 316.7,549.8 321.7,540.6 326.4,535.4 331.6,529.2 336.3,527.2 340.8,525.5 346.0,517.9 351.1,511.7 356.3,505.5 361.0,500.4 366.2,495.2 370.7,483.9 375.9,474.6 381.0,467.8 385.1,471.5 390.3,469.5 395.0,467.4 400.0,463.7 405.3,462.3 409.9,460.2 415.0,456.1 420.2,451.9 424.9,451.3 429.9,451.3 434.6,451.9 439.8,453.0 444.9,450.9 450.1,455.0 454.8,460.8 460.0,470.5 465.1,481.8 470.1,481.8 474.8,482.9 480.0,483.5 485.1,480.8 489.9,477.3 495.2,478.3 500.3,478.7 505.5,480.4 510.2,480.8 515.1,484.9 520.5,490.1 525.0,500.4 530.2,510.7 535.3,517.9 540.5,522.0 545.2,528.2 550.2,531.3 554.9,533.4 560.1,534.8 564.6,534.4 569.3,535.8 574.5,532.9 579.7,529.2 584.8,525.7 589.5,524.5 594.1,524.7 599.2,524.3 604.0,523.1 609.1,526.1 613.7,528.2 618.8,528.8 624.0,530.7 628.7,530.3 633.9,527.2 638.8,528.2 643.5,529.6 648.7,531.3 653.9,533.4 659.0,533.4 663.7,533.4 668.9,533.8 674.0,535.4 679.2,539.1 684.1,541.6 688.9,542.0 694.0,544.7 699.2,544.7 704.3,546.8 709.1,546.1 714.2,543.7 718.8,542.6 723.9,544.7 729.1,544.7 734.2,546.8 739.0,547.4 743.2,547.4 748.4,546.1 753.1,546.1 758.1,539.1 763.2,538.5 768.0,538.5 773.1,533.8 778.3,531.7 783.0,529.6 788.2,518.5 793.1,506.6 797.9,499.3 803.0,491.1 808.2,489.0 812.9,487.0 818.1,483.5 823.2,481.4 827.7,483.9 832.9,487.0 838.1,493.8 843.2,495.2 848.4,495.2 853.1,495.2 858.2,495.2 863.2,495.8 867.9,498.3 873.1,502.4 877.8,509.0 883.0,514.4 887.9,520.0 893.1,522.6 897.8,525.1 903.0,526.8 908.1,528.8 912.7,531.3 917.4,534.4 922.6,537.1 927.1,539.1 931.8,545.3 937.0,551.9 942.1,554.4 946.9,558.5 951.8,562.6 957.0,565.9 962.1,570.9 966.9,572.1 972.0,573.5 977.2,572.1 982.3,573.5 986.3,575.5" stroke="#e81010"/>
<polyline points="2.0,643.0 2.5,643.7 8.2,652.0 12.8,695.5 18.1,704.6 23.3,695.5 28.0,669.0 33.2,689.6 37.0,680.0 42.0,720.0 46.9,742.6 51.6,716.0 57.3,707.5 61.9,663.0 67.0,695.7 72.3,696.4 76.7,634.5 82.0,609.7 87.6,585.0 92.3,560.1 96.9,538.5 102.0,551.9 106.8,550.9 112.3,545.3 117.1,542.6 122.0,507.6 126.8,509.7 131.9,501.4 137.1,501.4 142.2,500.4 147.0,527.2 152.1,515.8 157.0,489.0 161.8,528.2 166.9,523.1 172.1,543.7 177.2,537.9 182.4,521.4 187.1,519.3 192.1,530.9 197.2,514.4 202.0,526.8 207.1,509.7 211.3,526.8 216.0,512.3 219.5,502.4 225.7,475.6 230.8,478.7 236.0,481.8 241.1,482.9 246.3,473.2 250.8,500.4 255.7,492.1 261.1,450.9 265.6,467.4 270.8,483.9 275.9,502.4 281.1,515.8 285.8,510.7 290.8,538.5 296.1,547.8 301.1,544.3 306.2,546.8 311.0,535.4 316.1,546.8 321.3,551.9 326.0,545.1 331.1,560.1 336.3,577.7 340.2,583.9 346.0,564.3 351.6,543.7 356.3,531.9 361.0,531.9 366.2,534.4 370.7,532.3 375.9,558.5 380.6,557.1 385.2,571.1 390.3,571.5 394.8,572.5 400.0,564.9 405.3,559.1 409.9,555.6 415.0,574.6 420.2,553.6 424.9,548.2 429.9,555.0 434.6,547.4 439.8,548.2 444.9,552.9 449.7,555.6 454.8,546.1 460.0,551.5 465.1,537.9 470.1,529.2 474.8,526.8 480.0,521.0 485.1,528.8 489.9,520.6 495.2,550.3 499.9,550.3 505.0,540.6 510.2,540.2 515.1,544.7 520.5,562.2 525.0,582.0 529.6,600.8 534.9,615.8 540.1,611.1 545.2,617.3 549.8,622.4 554.3,603.4 559.0,610.4 563.8,610.0 568.9,620.3 573.9,620.3 579.0,599.7 584.4,593.1 589.3,578.7 594.1,579.5 598.8,584.3 603.8,600.8 608.9,623.4 614.1,627.6 618.8,609.0 624.0,600.8 628.7,597.3 633.9,593.1 638.8,596.0 644.2,621.4 649.1,599.7 654.3,582.8 659.0,578.1 664.2,586.3 668.9,586.3 674.0,602.8 679.0,621.4 684.1,608.6 688.9,605.9 694.0,598.7 699.2,579.5 703.7,579.1 708.5,545.7 713.6,538.5 718.8,561.2 723.9,568.4 729.1,580.0 732.8,590.5 738.1,587.4 743.2,580.8 747.8,581.6 753.1,593.1 758.1,597.3 762.8,573.5 768.0,618.3 773.1,604.9 777.8,585.0 782.8,554.0 788.2,539.5 793.1,524.1 797.9,536.4 803.0,548.8 808.2,540.6 812.9,550.9 818.1,543.0 823.2,555.0 827.7,570.5 832.9,594.0 838.1,599.3 842.8,615.2 848.0,608.4 852.9,617.9 858.0,616.2 863.2,634.4 867.9,627.6 873.1,632.3 878.2,643.0 883.4,666.7 887.9,690.0 893.1,691.4 897.8,666.7 901.9,646.1 906.7,646.7 911.8,661.1 916.8,668.8 921.9,681.1 927.1,688.4 931.8,716.8 937.0,728.5 941.7,696.2 946.9,690.4 951.8,705.9 957.0,715.1 962.1,717.6 967.3,699.7 972.0,661.1 976.6,669.8 981.7,675.6" stroke="#f010f0"/>
<polyline points="2.0,721.7 8.1,735.8 12.8,733.8 17.4,732.4 22.8,728.0 28.2,737.1 33.0,737.5 37.5,737.9 42.3,742.5 47.4,739.5 52.2,741.5 57.3,739.2 62.4,741.0 67.0,738.5 71.5,731.0 77.0,718.5 82.0,718.4 87.0,695.3 91.8,691.8 96.8,694.8 102.0,689.1 107.2,685.0 112.3,687.6 117.1,678.8 122.0,658.2 126.8,652.0 132.3,646.2 137.1,649.3 142.2,654.7 146.7,660.8 152.1,650.5 156.6,657.1 161.8,656.1 166.9,661.7 172.1,661.7 177.2,655.5 182.4,651.4 186.9,672.6 192.1,669.1 197.2,671.1 202.0,671.1 206.7,672.0 211.3,665.8 216.0,664.3 220.9,654.0 226.1,636.9 230.8,632.8 236.0,634.5 241.1,628.3 246.3,623.1 250.8,629.3 255.7,623.7 261.1,602.5 265.6,623.1 270.8,590.2 275.9,644.8 281.1,656.7 285.8,608.7 290.8,609.7 295.5,580.8 300.2,585.5 306.2,569.4 311.0,579.7 316.1,578.7 321.3,563.2 326.4,566.7 331.1,568.0 336.3,586.0 340.8,568.0 346.0,562.2 351.6,551.9 356.3,550.3 361.0,543.2 366.6,535.4 371.1,508.6 375.9,482.9 381.0,451.3 385.1,486.0 390.3,487.6 395.0,478.3 400.0,489.7 405.3,487.0 409.9,484.3 415.0,516.9 420.2,502.4 424.9,491.7 429.9,502.4 434.6,502.4 439.8,510.3 444.9,483.5 450.1,506.6 454.8,514.4 460.0,545.7 465.1,526.8 470.1,526.1 474.8,509.7 480.0,509.0 485.1,504.5 489.9,518.5 495.2,531.3 500.3,520.0 505.5,523.1 510.0,535.8 515.1,532.3 519.9,543.7 525.0,562.2 530.2,579.7 535.3,570.5 540.1,562.8 545.2,566.3 549.8,568.8 554.3,561.8 559.0,550.9 563.8,549.8 569.3,552.9 574.1,529.2 579.0,525.1 584.4,510.7 588.9,502.4 594.1,506.6 598.8,512.3 603.8,555.0 608.5,549.8 613.7,546.1 618.8,537.9 624.0,537.5 628.7,540.6 633.9,536.0 638.8,555.6 644.2,549.4 649.1,549.4 653.9,535.0 659.0,531.3 664.2,545.3 668.9,559.1 673.4,560.8 678.6,556.0 683.7,557.7 688.9,553.6 694.0,544.7 699.2,547.8 704.3,532.3 709.1,517.3 714.2,524.7 718.8,540.6 723.9,548.8 728.7,548.2 733.8,541.6 738.1,537.1 743.2,530.3 748.4,542.6 753.1,535.4 758.1,528.2 763.2,544.7 768.0,537.5 773.1,518.9 778.3,503.5 783.0,506.6 788.2,475.6 793.1,469.1 797.9,494.6 803.0,480.8 808.2,492.5 812.9,484.9 818.1,473.6 823.2,489.7 827.7,502.9 832.9,509.0 838.1,536.4 843.2,524.1 848.4,521.0 853.1,522.0 858.0,514.4 863.2,525.5 867.9,531.3 873.1,537.5 877.8,562.2 883.0,576.6 887.9,568.4 893.1,555.0 897.8,550.9 901.9,541.6 907.1,561.8 911.8,565.3 916.8,574.2 921.9,572.9 927.1,588.4 931.8,600.8 937.0,592.5 941.7,582.2 946.9,600.8 951.8,595.6 957.0,600.8 961.7,586.3 966.9,553.6 972.0,559.7 977.2,559.1 982.3,541.5 986.5,551.0" stroke="#10e810"/>
<circle cx="22.5" cy="727.5" r="45.5" stroke="#d8d8d8" stroke-width="1.2"/>
<circle cx="932.3" cy="722" r="46.5" stroke="#d8d8d8" stroke-width="1.2"/>
</g>
<rect x="2.5" y="426" width="349.2" height="76.5" rx="3" fill="rgba(4,4,6,0.52)"/>
<text x="145.5" y="444.3" font-size="13.5" fill="#f0f0f0" font-family="'Liberation Sans', sans-serif" textLength="61.5" lengthAdjust="spacingAndGlyphs">Last Price</text>
<rect x="11" y="449.0" width="12" height="12" fill="#10f010"/>
<text x="27.3" y="460.7" font-size="13.5" fill="#f0f0f0" font-family="'Liberation Sans', sans-serif" textLength="91.5" lengthAdjust="spacingAndGlyphs">Gold Spot $/Oz</text>
<text x="128.2" y="460.7" font-size="13.5" fill="#f0f0f0" font-family="'Liberation Sans', sans-serif" textLength="27.8" lengthAdjust="spacingAndGlyphs">(R1)</text>
<text x="284" y="460.7" font-size="13.5" fill="#f0f0f0" font-family="'Liberation Sans', sans-serif" textLength="58.8" lengthAdjust="spacingAndGlyphs">1773.0352</text>
<rect x="11" y="464.7" width="12" height="12" fill="#f010f0"/>
<text x="27.3" y="476.4" font-size="13.5" fill="#f0f0f0" font-family="'Liberation Sans', sans-serif" textLength="125.8" lengthAdjust="spacingAndGlyphs">CMX Gold Net NCFP -</text>
<text x="162.7" y="476.4" font-size="13.5" fill="#f0f0f0" font-family="'Liberation Sans', sans-serif" textLength="75" lengthAdjust="spacingAndGlyphs">on 11/29/22</text>
<text x="247.8" y="476.4" font-size="13.5" fill="#f0f0f0" font-family="'Liberation Sans', sans-serif" textLength="28.3" lengthAdjust="spacingAndGlyphs">(R2)</text>
<text x="284" y="476.4" font-size="13.5" fill="#f0f0f0" font-family="'Liberation Sans', sans-serif" textLength="39.5" lengthAdjust="spacingAndGlyphs">0.110M</text>
<rect x="11" y="480.4" width="12" height="12" fill="#f01010"/>
<text x="27.3" y="492.09999999999997" font-size="13.5" fill="#f0f0f0" font-family="'Liberation Sans', sans-serif" textLength="186" lengthAdjust="spacingAndGlyphs">Total Known Gold ETF Holdings</text>
<text x="223.2" y="492.09999999999997" font-size="13.5" fill="#f0f0f0" font-family="'Liberation Sans', sans-serif" textLength="28.5" lengthAdjust="spacingAndGlyphs">(R3)</text>
<text x="284" y="492.09999999999997" font-size="13.5" fill="#f0f0f0" font-family="'Liberation Sans', sans-serif" textLength="46.4" lengthAdjust="spacingAndGlyphs">93.767M</text>
<rect x="1011.5" y="422.5" width="201.5" height="350" fill="#000"/>
<rect x="1011" y="423" width="1.3" height="349" fill="#f0f0f0"/>
<rect x="1011" y="445.09999999999997" width="4.2" height="1.2" fill="#f0f0f0"/>
<rect x="1011" y="483.79999999999995" width="4.2" height="1.2" fill="#f0f0f0"/>
<rect x="1011" y="521.8" width="4.2" height="1.2" fill="#f0f0f0"/>
<rect x="1011" y="560.6999999999999" width="4.2" height="1.2" fill="#f0f0f0"/>
<rect x="1011" y="599.1999999999999" width="4.2" height="1.2" fill="#f0f0f0"/>
<rect x="1011" y="637.8" width="4.2" height="1.2" fill="#f0f0f0"/>
<rect x="1011" y="676.1" width="4.2" height="1.2" fill="#f0f0f0"/>
<rect x="1011" y="714.4" width="4.2" height="1.2" fill="#f0f0f0"/>
<rect x="1011" y="753.1" width="4.2" height="1.2" fill="#f0f0f0"/>
<rect x="1011" y="770.6" width="4.2" height="1.2" fill="#f0f0f0"/>
<path d="M1011,423.3 L1019.4,426.2 L1011,429.09999999999997 z" fill="#f4f4f4"/>
<text transform="translate(1020.5,436.7) scale(0.9,1)" font-size="13.8" fill="#f8faff" font-family="'Liberation Sans', sans-serif">2100</text>
<path d="M1011,462.6 L1019.4,465.5 L1011,468.4 z" fill="#f4f4f4"/>
<text transform="translate(1020.5,470.7) scale(0.9,1)" font-size="13.8" fill="#f8faff" font-family="'Liberation Sans', sans-serif">2000</text>
<path d="M1011,500.6 L1019.4,503.5 L1011,506.4 z" fill="#f4f4f4"/>
<text transform="translate(1020.5,508.7) scale(0.9,1)" font-size="13.8" fill="#f8faff" font-family="'Liberation Sans', sans-serif">1900</text>
<path d="M1011,538.4 L1019.4,541.3 L1011,544.1999999999999 z" fill="#f4f4f4"/>
<text transform="translate(1020.5,546.5) scale(0.9,1)" font-size="13.8" fill="#f8faff" font-family="'Liberation Sans', sans-serif">1800</text>
<path d="M1011,577.6 L1019.4,580.5 L1011,583.4 z" fill="#f4f4f4"/>
<text transform="translate(1020.5,585.7) scale(0.9,1)" font-size="13.8" fill="#f8faff" font-family="'Liberation Sans', sans-serif">1700</text>
<path d="M1011,615.7 L1019.4,618.6 L1011,621.5 z" fill="#f4f4f4"/>
<text transform="translate(1020.5,623.8000000000001) scale(0.9,1)" font-size="13.8" fill="#f8faff" font-family="'Liberation Sans', sans-serif">1600</text>
<path d="M1011,654.3000000000001 L1019.4,657.2 L1011,660.1 z" fill="#f4f4f4"/>
<text transform="translate(1020.5,662.4000000000001) scale(0.9,1)" font-size="13.8" fill="#f8faff" font-family="'Liberation Sans', sans-serif">1500</text>
<path d="M1011,692.6 L1019.4,695.5 L1011,698.4 z" fill="#f4f4f4"/>
<text transform="translate(1020.5,700.7) scale(0.9,1)" font-size="13.8" fill="#f8faff" font-family="'Liberation Sans', sans-serif">1400</text>
<path d="M1011,731.2 L1019.4,734.1 L1011,737.0 z" fill="#f4f4f4"/>
<text transform="translate(1020.5,739.3000000000001) scale(0.9,1)" font-size="13.8" fill="#f8faff" font-family="'Liberation Sans', sans-serif">1300</text>
<rect x="1082" y="423" width="1.3" height="349" fill="#f0f0f0"/>
<rect x="1082" y="430.0" width="4.2" height="1.2" fill="#f0f0f0"/>
<rect x="1082" y="477.0" width="4.2" height="1.2" fill="#f0f0f0"/>
<rect x="1082" y="524.0" width="4.2" height="1.2" fill="#f0f0f0"/>
<rect x="1082" y="570.1999999999999" width="4.2" height="1.2" fill="#f0f0f0"/>
<rect x="1082" y="615.4" width="4.2" height="1.2" fill="#f0f0f0"/>
<rect x="1082" y="661.9" width="4.2" height="1.2" fill="#f0f0f0"/>
<rect x="1082" y="707.9" width="4.2" height="1.2" fill="#f0f0f0"/>
<rect x="1082" y="753.8" width="4.2" height="1.2" fill="#f0f0f0"/>
<path d="M1082,451.6 L1090.4,454.5 L1082,457.4 z" fill="#f4f4f4"/>
<text transform="translate(1091.5,459.7) scale(0.9,1)" font-size="13.8" fill="#f8faff" font-family="'Liberation Sans', sans-serif">0.35M</text>
<path d="M1082,498.90000000000003 L1090.4,501.8 L1082,504.7 z" fill="#f4f4f4"/>
<text transform="translate(1091.5,507.0) scale(0.9,1)" font-size="13.8" fill="#f8faff" font-family="'Liberation Sans', sans-serif">0.3M</text>
<path d="M1082,544.6 L1090.4,547.5 L1082,550.4 z" fill="#f4f4f4"/>
<text transform="translate(1091.5,552.7) scale(0.9,1)" font-size="13.8" fill="#f8faff" font-family="'Liberation Sans', sans-serif">0.25M</text>
<path d="M1082,590.6 L1090.4,593.5 L1082,596.4 z" fill="#f4f4f4"/>
<text transform="translate(1091.5,598.7) scale(0.9,1)" font-size="13.8" fill="#f8faff" font-family="'Liberation Sans', sans-serif">0.2M</text>
<path d="M1082,636.7 L1090.4,639.6 L1082,642.5 z" fill="#f4f4f4"/>
<text transform="translate(1091.5,644.8000000000001) scale(0.9,1)" font-size="13.8" fill="#f8faff" font-family="'Liberation Sans', sans-serif">0.15M</text>
<path d="M1082,682.4 L1090.4,685.3 L1082,688.1999999999999 z" fill="#f4f4f4"/>
<text transform="translate(1091.5,690.5) scale(0.9,1)" font-size="13.8" fill="#f8faff" font-family="'Liberation Sans', sans-serif">0.1M</text>
<path d="M1082,728.3000000000001 L1090.4,731.2 L1082,734.1 z" fill="#f4f4f4"/>
<text transform="translate(1091.5,736.4000000000001) scale(0.9,1)" font-size="13.8" fill="#f8faff" font-family="'Liberation Sans', sans-serif">50000</text>
<rect x="1146.5" y="423" width="1.3" height="349" fill="#f0f0f0"/>
<rect x="1146.5" y="441.4" width="4.2" height="1.2" fill="#f0f0f0"/>
<rect x="1146.5" y="477.7" width="4.2" height="1.2" fill="#f0f0f0"/>
<rect x="1146.5" y="512.8" width="4.2" height="1.2" fill="#f0f0f0"/>
<rect x="1146.5" y="548.6999999999999" width="4.2" height="1.2" fill="#f0f0f0"/>
<rect x="1146.5" y="584.3" width="4.2" height="1.2" fill="#f0f0f0"/>
<rect x="1146.5" y="619.9" width="4.2" height="1.2" fill="#f0f0f0"/>
<rect x="1146.5" y="655.4" width="4.2" height="1.2" fill="#f0f0f0"/>
<rect x="1146.5" y="692.0" width="4.2" height="1.2" fill="#f0f0f0"/>
<rect x="1146.5" y="726.9" width="4.2" height="1.2" fill="#f0f0f0"/>
<rect x="1146.5" y="762.8" width="4.2" height="1.2" fill="#f0f0f0"/>
<path d="M1146.5,421.5 L1154.9,424.4 L1146.5,427.29999999999995 z" fill="#f4f4f4"/>
<path d="M1146.5,457.3 L1154.9,460.2 L1146.5,463.09999999999997 z" fill="#f4f4f4"/>
<text transform="translate(1156.0,465.4) scale(0.9,1)" font-size="13.8" fill="#f8faff" font-family="'Liberation Sans', sans-serif">110M</text>
<path d="M1146.5,493.40000000000003 L1154.9,496.3 L1146.5,499.2 z" fill="#f4f4f4"/>
<text transform="translate(1156.0,501.5) scale(0.9,1)" font-size="13.8" fill="#f8faff" font-family="'Liberation Sans', sans-serif">105M</text>
<path d="M1146.5,528.6 L1154.9,531.5 L1146.5,534.4 z" fill="#f4f4f4"/>
<text transform="translate(1156.0,536.7) scale(0.9,1)" font-size="13.8" fill="#f8faff" font-family="'Liberation Sans', sans-serif">100M</text>
<path d="M1146.5,563.9 L1154.9,566.8 L1146.5,569.6999999999999 z" fill="#f4f4f4"/>
<text transform="translate(1156.0,572.0) scale(0.9,1)" font-size="13.8" fill="#f8faff" font-family="'Liberation Sans', sans-serif">95M</text>
<path d="M1146.5,600.5 L1154.9,603.4 L1146.5,606.3 z" fill="#f4f4f4"/>
<text transform="translate(1156.0,608.6) scale(0.9,1)" font-size="13.8" fill="#f8faff" font-family="'Liberation Sans', sans-serif">90M</text>
<path d="M1146.5,635.5 L1154.9,638.4 L1146.5,641.3 z" fill="#f4f4f4"/>
<text transform="translate(1156.0,643.6) scale(0.9,1)" font-size="13.8" fill="#f8faff" font-family="'Liberation Sans', sans-serif">85M</text>
<path d="M1146.5,671.4 L1154.9,674.3 L1146.5,677.1999999999999 z" fill="#f4f4f4"/>
<text transform="translate(1156.0,679.5) scale(0.9,1)" font-size="13.8" fill="#f8faff" font-family="'Liberation Sans', sans-serif">80M</text>
<path d="M1146.5,707.3000000000001 L1154.9,710.2 L1146.5,713.1 z" fill="#f4f4f4"/>
<text transform="translate(1156.0,715.4000000000001) scale(0.9,1)" font-size="13.8" fill="#f8faff" font-family="'Liberation Sans', sans-serif">75M</text>
<path d="M1146.5,742.2 L1154.9,745.1 L1146.5,748.0 z" fill="#f4f4f4"/>
<text transform="translate(1156.0,750.3000000000001) scale(0.9,1)" font-size="13.8" fill="#f8faff" font-family="'Liberation Sans', sans-serif">70M</text>
<path d="M1013.6,552.5 L1018,544.2 H1082.4 V560.8 H1018 z" fill="#00ee00"/>
<text x="1020.6" y="557.8" font-size="13.7" fill="#061006" font-family="'Liberation Sans', sans-serif" textLength="59" lengthAdjust="spacingAndGlyphs">1773.0352</text>
<path d="M1084.3,676.5 L1088.7,668.2 H1146 V684.8 H1088.7 z" fill="#ff00ff"/>
<text x="1090.6" y="682.3" font-size="13.7" fill="#ffffff" font-family="'Liberation Sans', sans-serif" textLength="41" lengthAdjust="spacingAndGlyphs">0.110M</text>
<path d="M1148.8,576.5 L1153.2,568 H1205 V585 H1153.2 z" fill="#f41010"/>
<text x="1154.7" y="581.6" font-size="13.7" fill="#ffffff" font-family="'Liberation Sans', sans-serif" textLength="47.2" lengthAdjust="spacingAndGlyphs">93.767M</text>
<rect x="2" y="772.4" width="1203" height="4.2" fill="#4a4a4a"/>
<rect x="596" y="773.3" width="14" height="0.8" fill="#9a9a9a"/><rect x="596" y="775" width="14" height="0.8" fill="#9a9a9a"/>
<rect x="2" y="777.3" width="1010" height="1.2" fill="#f0f0f0"/>
<rect x="339" y="776.5" width="643" height="1.3" fill="#2a8af0"/>
<rect x="982" y="776.5" width="5" height="1.3" fill="#f06010"/>
<rect x="1013" y="776.6" width="70" height="1.2" fill="#e06010"/>
<rect x="1084" y="776.6" width="62" height="1.2" fill="#2a8af0"/>
<path d="M3.5,778V782 M28.5,778V782 M47.5,778V782 M72.5,778V782 M92.5,778V782 M112.5,778V782 M137.5,778V782 M157.5,778V782 M177.5,778V782 M202.5,778V782 M221.5,778V782 M246.5,778V782 M266.5,778V782 M286.5,778V782 M306.5,778V782 M331.5,778V782 M351.5,778V782 M376.5,778V782 M395.5,778V782 M415.5,778V782 M440.5,778V782 M460.5,778V782 M480.5,778V782 M505.5,778V782 M525.5,778V782 M545.5,778V782 M569.5,778V782 M589.5,778V782 M609.5,778V782 M635.5,778V782 M654.5,778V782 M674.5,778V782 M699.5,778V782 M719.5,778V782 M743.5,778V782 M763.5,778V782 M783.5,778V782 M803.5,778V782 M828.5,778V782 M848.5,778V782 M868.5,778V782 M893.5,778V782 M913.5,778V782 M937.5,778V782 M957.5,778V782 M978.5,778V782 M1003.5,778V782" stroke="#e8e8e8" stroke-width="1"/>
<rect x="221" y="794.6" width="1.2" height="17.5" fill="#8a8a8a"/>
<rect x="480" y="794.6" width="1.2" height="17.5" fill="#8a8a8a"/>
<rect x="743" y="794.6" width="1.2" height="17.5" fill="#8a8a8a"/>
<rect x="1003" y="794.6" width="1.2" height="17.5" fill="#8a8a8a"/>
<text x="112" y="809.5" font-size="14.5" fill="#f0f0f0" font-family="'Liberation Sans', sans-serif" textLength="28" lengthAdjust="spacingAndGlyphs" text-anchor="middle">2019</text>
<text x="351" y="809.5" font-size="14.5" fill="#f0f0f0" font-family="'Liberation Sans', sans-serif" textLength="28" lengthAdjust="spacingAndGlyphs" text-anchor="middle">2020</text>
<text x="612.3" y="809.5" font-size="14.5" fill="#f0f0f0" font-family="'Liberation Sans', sans-serif" textLength="28" lengthAdjust="spacingAndGlyphs" text-anchor="middle">2021</text>
<text x="873.2" y="809.5" font-size="14.5" fill="#f0f0f0" font-family="'Liberation Sans', sans-serif" textLength="28" lengthAdjust="spacingAndGlyphs" text-anchor="middle">2022</text>
</svg>
</body></html>
